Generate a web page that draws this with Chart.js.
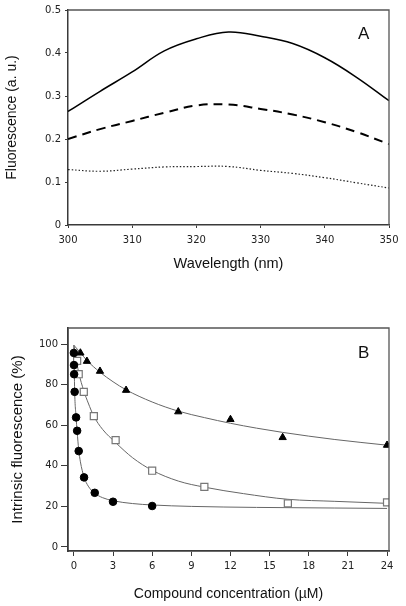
<!DOCTYPE html>
<html><head><meta charset="utf-8">
<script src="https://cdn.jsdelivr.net/npm/chart.js@4/dist/chart.umd.min.js"></script>
<style>
html,body{margin:0;padding:0;background:#fff;width:406px;height:606px;overflow:hidden}
#wa{position:absolute;left:0;top:0;width:406px;height:277px}
#wb{position:absolute;left:0;top:300px;width:406px;height:306px}
</style></head><body>
<div id="wa"><canvas id="ca"></canvas></div>
<div id="wb"><canvas id="cb"></canvas></div>
<script>
// ---- Panel A data ----
const panelALabel = "A";
const wavelengths = [300,305,310,315,320,325,330,335,340,345,350];
const solidA  = [0.264,0.311,0.356,0.405,0.433,0.449,0.439,0.422,0.389,0.343,0.289];
const dashedA = [0.200,0.223,0.242,0.261,0.278,0.280,0.270,0.257,0.239,0.216,0.188];
const dottedA = [0.129,0.125,0.130,0.135,0.136,0.136,0.127,0.120,0.110,0.098,0.086];
const xTicksA = [300,310,320,330,340,350];
const yTicksA = [0,0.1,0.2,0.3,0.4,0.5];

// ---- Panel B data ----
const panelBLabel = "B";
const circleX = [0,0.01,0.02,0.06,0.17,0.25,0.37,0.78,1.6,3,6];
const circleY = [95.7,89.7,85.2,76.5,63.9,57.3,47.3,34.3,26.7,22.3,20.2];
const squareX = [0.25,0.37,0.76,1.53,3.2,6,10,16.4,24];
const squareY = [91.8,85.2,76.5,64.5,52.7,37.6,29.6,21.5,22];
const triX = [0.5,1,2,4,8,12,16,24];
const triY = [95.7,91.6,86.7,77.3,66.7,62.9,54,50.2];
const fitCircleX = [0,0.06,0.17,0.25,0.37,0.5,0.78,1.1,1.6,2.2,3,4.5,6,9,14,20,24];
const fitCircleY = [99.5,77,64,57,48,42,34.5,30,26.5,24.3,22.8,21.4,20.7,20,19.5,19.2,19];
const fitSquareX = [0,0.25,0.37,0.76,1.1,1.53,2.2,3.2,4.5,6,8,10,13,16.4,20,24];
const fitSquareY = [99.5,90,86,77,71,64.5,58,51.5,44,37.8,32.5,29.5,26.3,23.5,22.5,21.5];
const fitTriX = [0,0.5,1,2,3,4,6,8,10,12,14,16,20,24];
const fitTriY = [99.5,95.8,92,86.2,81.5,77.5,71.5,67,63.8,61,58.6,56.5,53,50.2];
const xTicksB = [0,3,6,9,12,15,18,21,24];
const yTicksB = [0,20,40,60,80,100];

const zip = (xs, ys) => xs.map((x, i) => ({x, y: ys[i]}));
const AX = '#3a3a3a';
const SANS = '"Liberation Sans", Arial, sans-serif';

function boxPlugin(label, dy){
  return {
    id: 'box' + label,
    afterDraw(chart){
      const {ctx, chartArea: a} = chart;
      ctx.save();
      ctx.strokeStyle = '#555';
      ctx.lineWidth = 1.3;
      ctx.beginPath();
      ctx.moveTo(a.left, a.top); ctx.lineTo(a.right, a.top); ctx.lineTo(a.right, a.bottom);
      ctx.stroke();
      ctx.fillStyle = '#111';
      ctx.font = '17px ' + SANS;
      ctx.textAlign = 'center'; ctx.textBaseline = 'middle';
      ctx.fillText(label, a.left + (a.right - a.left) * 0.921, a.top + dy);
      ctx.restore();
    }
  };
}

Chart.defaults.animation = false;
Chart.defaults.font.family = '"DejaVu Sans", Verdana, sans-serif';
Chart.defaults.color = '#222';

new Chart(document.getElementById('ca'), {
  type: 'line',
  data: {
    datasets: [
      {data: zip(wavelengths, solidA), borderColor: '#000', borderWidth: 1.5, pointRadius: 0, tension: 0.4},
      {data: zip(wavelengths, dashedA), borderColor: '#000', borderWidth: 2, borderDash: [9,6], pointRadius: 0, tension: 0.4},
      {data: zip(wavelengths, dottedA), borderColor: '#222', borderWidth: 1.2, borderDash: [1.5,2], pointRadius: 0, tension: 0.4}
    ]
  },
  options: {
    responsive: true, maintainAspectRatio: false,
    layout: {padding: {top: 3, right: 17, left: 4, bottom: 0}},
    plugins: {legend: {display: false}, tooltip: {enabled: false}},
    scales: {
      x: {
        type: 'linear', min: 300, max: 350,
        afterBuildTicks: s => { s.ticks = xTicksA.map(v => ({value: v})); },
        afterFit: s => { s.height = 52; },
        grid: {drawOnChartArea: false, drawTicks: true, tickLength: 3, color: AX},
        border: {color: AX, width: 1.5},
        ticks: {font: {size: 10}, padding: 6, maxRotation: 0},
        title: {display: true, text: 'Wavelength (nm)', font: {family: SANS, size: 14.5}, color: '#111', padding: {top: 0, bottom: 4}}
      },
      y: {
        type: 'linear', min: 0, max: 0.5,
        afterBuildTicks: s => { s.ticks = yTicksA.map(v => ({value: v})); },
        afterFit: s => { s.width = 64; },
        grid: {drawOnChartArea: false, drawTicks: true, tickLength: 3, color: AX},
        border: {color: AX, width: 1.5},
        ticks: {font: {size: 10}, padding: 4, callback: v => String(v)},
        title: {display: true, text: 'Fluorescence (a. u.)', font: {family: SANS, size: 14}, color: '#111', padding: 0}
      }
    }
  },
  plugins: [boxPlugin(panelALabel, 24)]
});

new Chart(document.getElementById('cb'), {
  type: 'scatter',
  data: {
    datasets: [
      {data: zip(circleX, circleY), pointStyle: 'circle', pointRadius: 3.8, backgroundColor: '#000', borderColor: '#000', borderWidth: 1, showLine: false, order: 1},
      {data: zip(squareX, squareY), pointStyle: 'rect', pointRadius: 5, backgroundColor: '#fff', borderColor: '#777', borderWidth: 1.2, showLine: false, order: 1},
      {data: zip(triX, triY), pointStyle: 'triangle', pointRadius: 4.2, backgroundColor: '#000', borderColor: '#000', borderWidth: 1, showLine: false, order: 1},
      {data: zip(fitCircleX, fitCircleY), showLine: true, pointRadius: 0, borderColor: '#666', borderWidth: 1, cubicInterpolationMode: 'monotone', order: 2},
      {data: zip(fitSquareX, fitSquareY), showLine: true, pointRadius: 0, borderColor: '#666', borderWidth: 1, cubicInterpolationMode: 'monotone', order: 2},
      {data: zip(fitTriX, fitTriY), showLine: true, pointRadius: 0, borderColor: '#666', borderWidth: 1, cubicInterpolationMode: 'monotone', order: 2}
    ]
  },
  options: {
    responsive: true, maintainAspectRatio: false,
    layout: {padding: {top: 28, right: 17, left: 9, bottom: 0}},
    plugins: {legend: {display: false}, tooltip: {enabled: false}},
    scales: {
      x: {
        type: 'linear', min: -0.45, max: 24.15,
        afterBuildTicks: s => { s.ticks = xTicksB.map(v => ({value: v})); },
        afterFit: s => { s.height = 55; },
        grid: {drawOnChartArea: false, drawTicks: true, tickLength: 5, color: AX},
        border: {color: AX, width: 1.8},
        ticks: {font: {size: 10}, padding: 4, maxRotation: 0},
        title: {display: true, text: 'Compound concentration (µM)', font: {family: SANS, size: 14}, color: '#111', padding: {top: 0, bottom: 3}}
      },
      y: {
        type: 'linear', min: -2, max: 108,
        afterBuildTicks: s => { s.ticks = yTicksB.map(v => ({value: v})); },
        afterFit: s => { s.width = 59; },
        grid: {drawOnChartArea: false, drawTicks: true, tickLength: 7, color: AX},
        border: {color: AX, width: 1.8},
        ticks: {font: {size: 10}, padding: 3},
        title: {display: true, text: 'Intrinsic fluorescence (%)', font: {family: SANS, size: 15}, color: '#111', padding: 0}
      }
    }
  },
  plugins: [boxPlugin(panelBLabel, 25)]
});
</script>
</body></html>
